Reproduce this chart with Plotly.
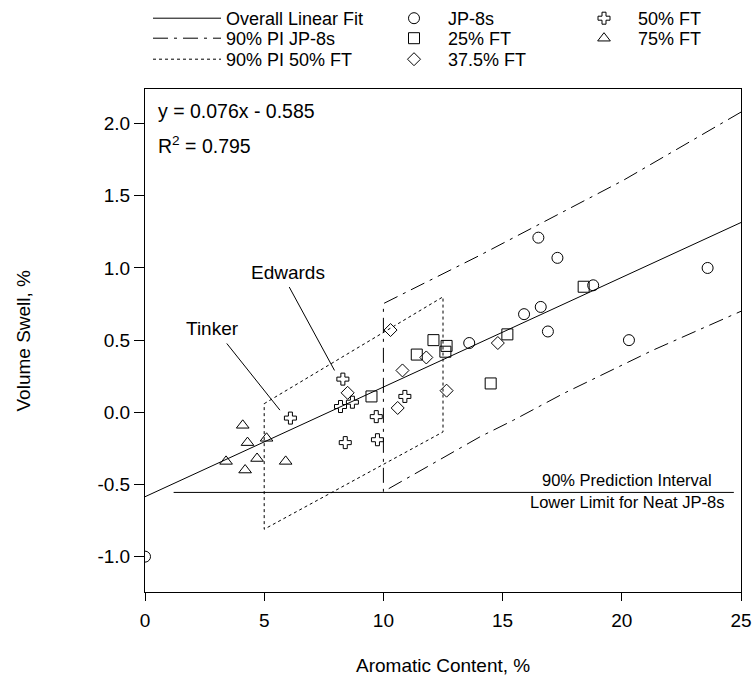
import plotly.graph_objects as go

# ---------------- data ----------------
jp8_x = [0.0, 13.6, 15.9, 16.5, 16.6, 16.9, 17.3, 18.8, 20.3, 23.6]
jp8_y = [-1.0, 0.48, 0.68, 1.21, 0.73, 0.56, 1.07, 0.88, 0.50, 1.00]

ft25_x = [9.5, 11.4, 12.1, 12.6, 12.65, 14.5, 15.2, 18.4]
ft25_y = [0.11, 0.40, 0.50, 0.42, 0.46, 0.20, 0.54, 0.87]

ft375_x = [8.5, 10.3, 10.6, 10.8, 11.8, 12.65, 14.8]
ft375_y = [0.135, 0.57, 0.03, 0.29, 0.38, 0.15, 0.48]

ft50_x = [6.1, 8.2, 8.3, 8.4, 8.7, 9.7, 9.75, 10.9]
ft50_y = [-0.04, 0.04, 0.23, -0.21, 0.07, -0.03, -0.19, 0.11]

ft75_x = [3.4, 4.1, 4.2, 4.3, 4.7, 5.1, 5.9]
ft75_y = [-0.34, -0.09, -0.40, -0.21, -0.32, -0.18, -0.34]

fit_slope = 0.076
fit_intercept = -0.585
fit_x = [0, 25]

# 90% PI JP-8s (upper and lower bounds, from x = 10)
pi_jp8_upper_x = [10, 14.05, 20.06, 25]
pi_jp8_upper_y = [0.753, 1.088, 1.607, 2.08]
pi_jp8_lower_x = [10, 14.05, 15.45, 17.55, 21.3, 25]
pi_jp8_lower_y = [-0.55, -0.17, -0.055, 0.13, 0.43, 0.70]

# 90% PI 50% FT (x = 5 to 12.5)
pi_ft50_x = [5, 12.5]
pi_ft50_upper_y = [0.06, 0.80]
pi_ft50_lower_y = [-0.81, -0.136]

# lower-limit reference line
limit_y = -0.555
limit_x = [1.2, 24.7]

# pointer lines for labels
tinker_line_x = [3.43, 5.66]
tinker_line_y = [0.477, 0.015]
edwards_line_x = [6.05, 7.95]
edwards_line_y = [0.868, 0.29]

x_ticks = [0, 5, 10, 15, 20, 25]
y_ticks = [-1.0, -0.5, 0.0, 0.5, 1.0, 1.5, 2.0]

FONT = "Liberation Sans, Arial, sans-serif"
BLACK = "black"
W, H = 753, 682
ML, MR, MT, MB = 145, 12, 89, 90

# legend grid positions (pixels)
COL_X = [148, 380, 570]
ROW_C = [18, 39, 60]

fig = go.Figure()

# overall fit line
fit_y = [fit_slope * v + fit_intercept for v in fit_x]
fig.add_trace(go.Scatter(x=fit_x, y=fit_y, mode="lines", name="Overall Linear Fit",
                         line=dict(color=BLACK, width=1), legend="legend"))

# PI JP-8s : upper (reversed) -> vertical at x=10 -> lower
pij_x = pi_jp8_upper_x[::-1] + pi_jp8_lower_x
pij_y = pi_jp8_upper_y[::-1] + pi_jp8_lower_y
fig.add_trace(go.Scatter(x=pij_x, y=pij_y, mode="lines", name="90% PI JP-8s",
                         line=dict(color=BLACK, width=1, dash="longdashdot"), legend="legend2"))

# PI 50% FT parallelogram
pf_x = [pi_ft50_x[0], pi_ft50_x[1], pi_ft50_x[1], pi_ft50_x[0], pi_ft50_x[0]]
pf_y = [pi_ft50_upper_y[0], pi_ft50_upper_y[1], pi_ft50_lower_y[1], pi_ft50_lower_y[0], pi_ft50_upper_y[0]]
fig.add_trace(go.Scatter(x=pf_x, y=pf_y, mode="lines", name="90% PI 50% FT",
                         line=dict(color=BLACK, width=1, dash="dot"), legend="legend3"))

# reference horizontal line
fig.add_trace(go.Scatter(x=limit_x, y=[limit_y, limit_y], mode="lines", showlegend=False,
                         line=dict(color=BLACK, width=1), hoverinfo="skip"))
# pointer lines
fig.add_trace(go.Scatter(x=tinker_line_x, y=tinker_line_y, mode="lines", showlegend=False,
                         line=dict(color=BLACK, width=1), hoverinfo="skip"))
fig.add_trace(go.Scatter(x=edwards_line_x, y=edwards_line_y, mode="lines", showlegend=False,
                         line=dict(color=BLACK, width=1), hoverinfo="skip"))

def pts(x, y, name, symbol, size, legend):
    fig.add_trace(go.Scatter(x=x, y=y, mode="markers", name=name, legend=legend,
                             marker=dict(symbol=symbol, size=size, color=BLACK,
                                         line=dict(color=BLACK, width=1))))

pts(jp8_x, jp8_y, "JP-8s", "circle-open", 11, "legend4")
pts(ft25_x, ft25_y, "25% FT", "square-open", 11, "legend5")
pts(ft375_x, ft375_y, "37.5% FT", "diamond-open", 10, "legend6")
pts(ft50_x, ft50_y, "50% FT", "cross-open", 10, "legend7")
pts(ft75_x, ft75_y, "75% FT", "triangle-up-open", 11, "legend8")

legend_font = dict(family=FONT, size=18, color=BLACK)

def leg(col, row, itemwidth):
    top = max(ROW_C[row] - 19, 0)
    return dict(x=COL_X[col] / W, y=1 - top / H, xref="container", yref="container",
                xanchor="left", yanchor="top", orientation="v",
                font=legend_font, bgcolor="rgba(0,0,0,0)", borderwidth=0,
                itemwidth=itemwidth, tracegroupgap=0, traceorder="normal")

plot_w = W - ML - MR
plot_h = H - MT - MB

fig.update_layout(
    width=W, height=H,
    margin=dict(l=ML, r=MR, t=MT, b=MB, autoexpand=False),
    paper_bgcolor="white", plot_bgcolor="white",
    font=dict(family=FONT, size=19, color=BLACK),
    legend=leg(0, 0, 68), legend2=leg(0, 1, 68), legend3=leg(0, 2, 68),
    legend4=leg(1, 0, 58), legend5=leg(1, 1, 58), legend6=leg(1, 2, 58),
    legend7=leg(2, 0, 58), legend8=leg(2, 1, 58),
    xaxis=dict(range=[0, 25], tickvals=x_ticks, ticktext=[str(v) for v in x_ticks],
               showline=True, linecolor=BLACK, linewidth=1, mirror=True,
               ticks="outside", ticklen=8, tickcolor=BLACK, showgrid=False, zeroline=False,
               tickfont=dict(family=FONT, size=19), ticklabelstandoff=3),
    yaxis=dict(range=[-1.245, 2.24], tickvals=y_ticks, ticktext=[f"{v:.1f}" for v in y_ticks],
               showline=True, linecolor=BLACK, linewidth=1, mirror=True,
               ticks="outside", ticklen=10, tickcolor=BLACK, showgrid=False, zeroline=False,
               tickfont=dict(family=FONT, size=19)),
    annotations=[
        # axis titles
        dict(x=0.5, y=-(666 - (H - MB)) / plot_h, xref="paper", yref="paper",
             text="Aromatic Content, %", showarrow=False, xanchor="center", yanchor="middle",
             font=dict(size=19)),
        dict(x=-(ML - 23) / plot_w, y=0.5, xref="paper", yref="paper",
             text="Volume Swell, %", showarrow=False, textangle=-90,
             xanchor="center", yanchor="middle", font=dict(size=19)),
        # fit statistics
        dict(x=0.45, y=2.09, xref="x", yref="y", text="y = 0.076x - 0.585", showarrow=False,
             xanchor="left", font=dict(size=19.5)),
        dict(x=0.45, y=1.85, xref="x", yref="y", text="R<sup>2</sup> = 0.795", showarrow=False,
             xanchor="left", font=dict(size=19.5)),
        # labels
        dict(x=2.85, y=0.58, xref="x", yref="y", text="Tinker", showarrow=False, font=dict(size=19)),
        dict(x=5.98, y=0.97, xref="x", yref="y", text="Edwards", showarrow=False, font=dict(size=19)),
        dict(x=20.2, y=limit_y, xref="x", yref="y", text="90% Prediction Interval",
             showarrow=False, yanchor="bottom", yshift=1, font=dict(size=16.5)),
        dict(x=20.2, y=limit_y, xref="x", yref="y", text="Lower Limit for Neat JP-8s",
             showarrow=False, yanchor="top", yshift=1, font=dict(size=16.5)),
    ],
)

fig.write_html("out.html", config={"displayModeBar": False},
               post_script="document.body.style.margin='0';document.body.style.padding='0';")
